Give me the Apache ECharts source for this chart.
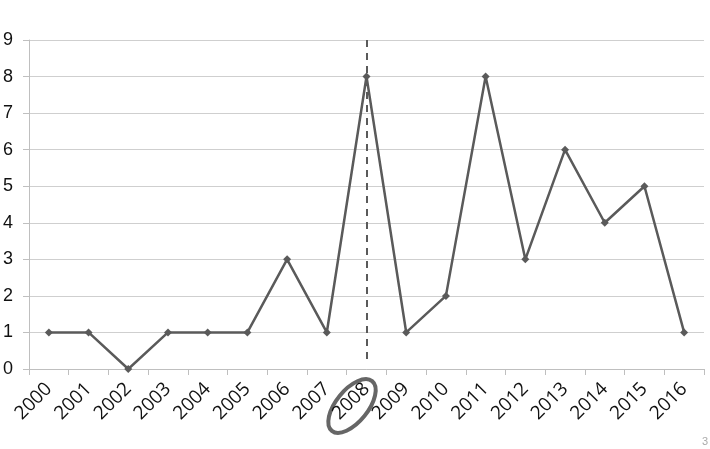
<!DOCTYPE html>
<html><head><meta charset="utf-8">
<script src="https://cdn.jsdelivr.net/npm/echarts@6/dist/echarts.min.js"></script>
<style>html,body{margin:0;padding:0;background:#fff}#c{width:710px;height:449px}</style>
</head><body><div id="c"></div>
<script>
var categories = ['2000','2001','2002','2003','2004','2005','2006','2007','2008','2009','2010','2011','2012','2013','2014','2015','2016'];
var values = [1,1,0,1,1,1,3,1,8,1,2,8,3,6,4,5,1];
var yTicks = [0,1,2,3,4,5,6,7,8,9];
var highlightYear = '2008';
var chart = echarts.init(document.getElementById('c'));
chart.setOption({
  animation:false,
  grid:{left:28,right:6,top:40,bottom:80},
  xAxis:{type:'category',data:categories,boundaryGap:true,
    axisLine:{lineStyle:{color:'#bfbfbf',width:1}},
    axisTick:{show:true,length:6,lineStyle:{color:'#bfbfbf'}},
    axisLabel:{rotate:45,color:'#111',fontSize:19,fontFamily:'Open Sans, Liberation Sans',margin:17,interval:0}},
  yAxis:{type:'value',min:yTicks[0],max:yTicks[yTicks.length-1],interval:1,
    axisLine:{show:true,lineStyle:{color:'#bfbfbf'}},
    axisTick:{show:true,length:6,lineStyle:{color:'#bfbfbf'}},
    splitLine:{lineStyle:{color:'#cfcfcf',width:1}},
    axisLabel:{color:'#111',fontSize:18,fontFamily:'Liberation Sans, Arial',margin:16}},
  series:[{type:'line',data:values,symbol:'diamond',symbolSize:8,
    lineStyle:{color:'#5a5a5a',width:2.5},itemStyle:{color:'#5a5a5a'},
    markLine:{silent:true,symbol:'none',label:{show:false},
      lineStyle:{color:'#5a5a5a',type:[7,6],width:2},
      data:[[{coord:[highlightYear,9]},{coord:[highlightYear,0.2]}]]}}],
  graphic:[
    {type:'ellipse',x:352,y:406,rotation:51*Math.PI/180,
      shape:{cx:0,cy:0,rx:32,ry:16},style:{fill:'none',stroke:'#666',lineWidth:4}},
    {type:'text',right:2,bottom:2,style:{text:'3',fill:'#aaa',fontSize:11,fontFamily:'Liberation Sans, Arial'}}
  ]
});
</script></body></html>
